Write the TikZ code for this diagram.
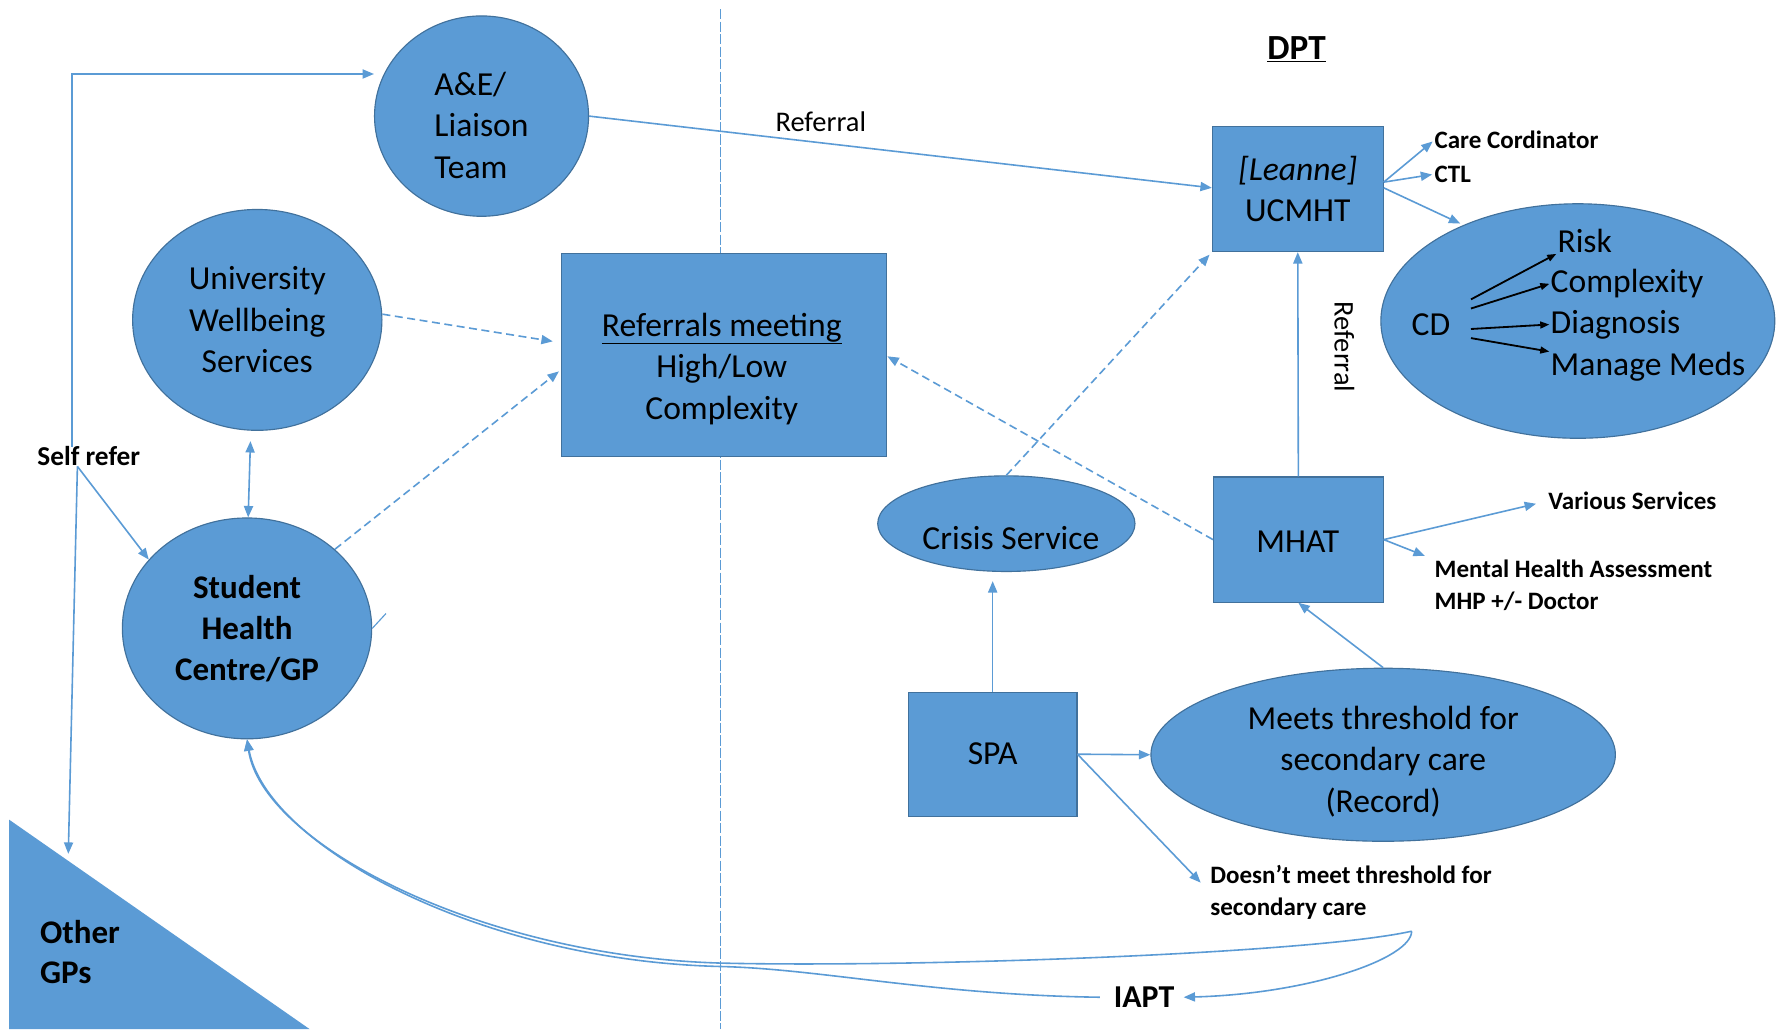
\documentclass[tikz,border=0pt]{standalone}
\usepackage{fontspec}
\setmainfont{Carlito}
\usetikzlibrary{arrows.meta,shapes.geometric}

\definecolor{officeblue}{HTML}{5B9BD5}
\definecolor{edgeblue}{HTML}{41719C}

\tikzset{
  bigtext/.style={font=\fontsize{29.5}{36.5}\selectfont,align=center,inner sep=0pt},
  bubble/.style={ellipse,draw=edgeblue,fill=officeblue,line width=1pt,inner sep=0pt,bigtext},
  block/.style={rectangle,draw=edgeblue,fill=officeblue,line width=1pt,inner sep=0pt,bigtext},
  tag/.style={font=\bfseries\fontsize{22}{28}\selectfont,align=left,inner sep=0pt},
  link/.style={draw=officeblue,line width=1.4pt,-{Triangle[length=10pt,width=8pt]}},
  dlink/.style={link,dash pattern=on 7pt off 4pt},
  pointer/.style={draw=black,line width=1.6pt,-{Triangle[length=8pt,width=6pt]}}
}

\begin{document}
\begin{tikzpicture}[x=1pt,y=-1pt]
\useasboundingbox[fill=white] (0,0) rectangle (1568,904);

\draw[officeblue,line width=0.8pt,dash pattern=on 9pt off 2pt] (633,8) -- (633,904);

% left side
\node[bubble,minimum width=188pt,minimum height=176pt] (ae) at (423,102) {};
\node[bigtext,align=left] (aetext) at (423,110) {A\&E/\\Liaison\\Team};
\node[bubble,minimum width=219pt,minimum height=194pt] (univ) at (226,281) {University\\Wellbeing\\Services};
\node[bubble,minimum width=219pt,minimum height=194pt,font=\bfseries\fontsize{29}{36}\selectfont] (student) at (217,552) {Student\\Health\\Centre/GP};
\node[block,minimum width=286pt,minimum height=178pt] (refer) at (636,312) {};
\node[bigtext] (refertext) at (634,324) {\underline{Referrals meeting}\\High/Low\\Complexity};

\fill[officeblue] (8,720) coordinate (gptop) -- (8,904) -- (272,904) -- cycle;
\node[bigtext,align=left,font=\bfseries\fontsize{29}{35}\selectfont,anchor=west] (others) at (35,836) {Other\\GPs};
\node[font=\bfseries\fontsize{24}{28}\selectfont,inner sep=0pt] (self) at (78,401) {Self refer};
\coordinate (gpend) at (60,750);

% right side
\node[font=\bfseries\fontsize{31}{36}\selectfont,inner sep=0pt] (dpt) at (1139,43) {\underline{DPT}};
\node[block,minimum width=150pt,minimum height=110pt] (ucmht) at (1140,166) {\textit{[Leanne]}\\UCMHT};
\node[bubble,minimum width=346pt,minimum height=206pt] (cd) at (1386,282) {};
\node[bigtext] (cdtext) at (1257,285) {CD};
\node[bigtext,anchor=west] (risk) at (1368,212) {Risk};
\node[bigtext,anchor=west] (cplx) at (1362,249) {Complexity};
\node[bigtext,anchor=west] (diag) at (1362,285) {Diagnosis};
\node[bigtext,anchor=west] (meds) at (1362,322) {Manage Meds};
\node[tag,anchor=west] (care) at (1260,123) {Care Cordinator};
\node[tag,anchor=west] (ctl) at (1260,153) {CTL};

\node[block,minimum width=149pt,minimum height=110pt] (mhat) at (1140.5,474) {};
\node[bigtext] (mhattext) at (1140,476) {MHAT};
\node[tag,anchor=west] (various) at (1360,440) {Various Services};
\node[tag,anchor=west] (mha) at (1260,514) {Mental Health Assessment\\MHP +/- Doctor};

\node[bubble,minimum width=226pt,minimum height=84pt] (crisis) at (884,460) {};
\node[bigtext] (crisistext) at (888,473) {Crisis Service};
\node[block,minimum width=148pt,minimum height=109pt] (spa) at (872,662.5) {SPA};
\node[bubble,minimum width=408pt,minimum height=152pt] (meets) at (1215,663) {};
\node[bigtext] (meetstext) at (1215,669) {Meets threshold for\\secondary care\\(Record)};
\node[tag,anchor=west] (dnm) at (1063,784) {Doesn’t meet threshold for\\secondary care};
\node[font=\bfseries\fontsize{28}{34}\selectfont,inner sep=0pt] (iapt) at (1005,876) {IAPT};
\coordinate (fork) at (1240,818);

% connectors
\draw[link] ([xshift=-15pt]self.north) |- (ae.west |- 0,65);
\draw[link] ([xshift=-10pt]self.south) -- (student.145);
\draw[link] ([xshift=-10pt]self.south) -- (gpend);
\draw[link,{Triangle[length=10pt,width=8pt]}-{Triangle[length=10pt,width=8pt]}] ([shift={(-6pt,-9pt)}]univ.south) -- ([xshift=1pt]student.north);
\draw[dlink,shorten >=7pt] ([yshift=5pt]univ.east) -- (refer.west |- 0,301);
\draw[dlink,shorten >=2pt] (student.42) -- (refer.west |- 0,325);
\draw[dlink] (mhat.west) -- (refer.east |- 0,313);
\draw[dlink,shorten >=3pt] (crisis.north) -- (ucmht.south west);

\draw[link] (ae.east) -- (ucmht.west |- 0,165);
\node[font=\fontsize{25}{30}\selectfont,inner sep=0pt] (reflabel) at (721,107) {Referral};
\draw[link] (mhat.north) -- (ucmht.south);
\node[font=\fontsize{25}{30}\selectfont,inner sep=0pt,rotate=-90] (reflabel2) at (1181,305) {Referral};

\draw[link,shorten >=2pt] (ucmht.east |- 0,160) -- (care.west);
\draw[link,shorten >=2pt] (ucmht.east |- 0,160) -- (ctl.west);
\draw[link,shorten >=3pt] (ucmht.east |- 0,165) -- (cd.140);
\foreach \s/\t in {22/risk.south west,14/cplx.west,-4/diag.west,-12/meds.north west}
  \draw[pointer,shorten >=1pt] ([shift={(18pt,\s pt)}]cdtext.east) -- (\t);

\draw[link,shorten >=11pt] (mhat.east) -- (various.west);
\draw[link,shorten >=9pt] (mhat.east) -- (mha.north west);
\draw[link] (meets.north) -- (mhat.south);
\draw[link,shorten >=8pt] (spa.north) -- (spa.north |- crisis.south);
\draw[link] (spa.east) -- (meets.west);
\draw[link,shorten >=12pt] (spa.east) -- (dnm.west);

\draw[link] (fork) .. controls (1240,842) and (1150,873) .. ([xshift=8pt]iapt.east);
\draw[link] (fork) .. controls (1150,838) and (800,850) .. (633,846) .. controls (420,840) and (230,740) .. (student.south);
\draw[link] ([xshift=-12pt]iapt.west) .. controls (820,874) and (720,851) .. (633,849) .. controls (420,844) and (234,742) .. (student.south);
\draw[officeblue,line width=1pt] (student.east) -- ++(12,-13);

\end{tikzpicture}
\end{document}
